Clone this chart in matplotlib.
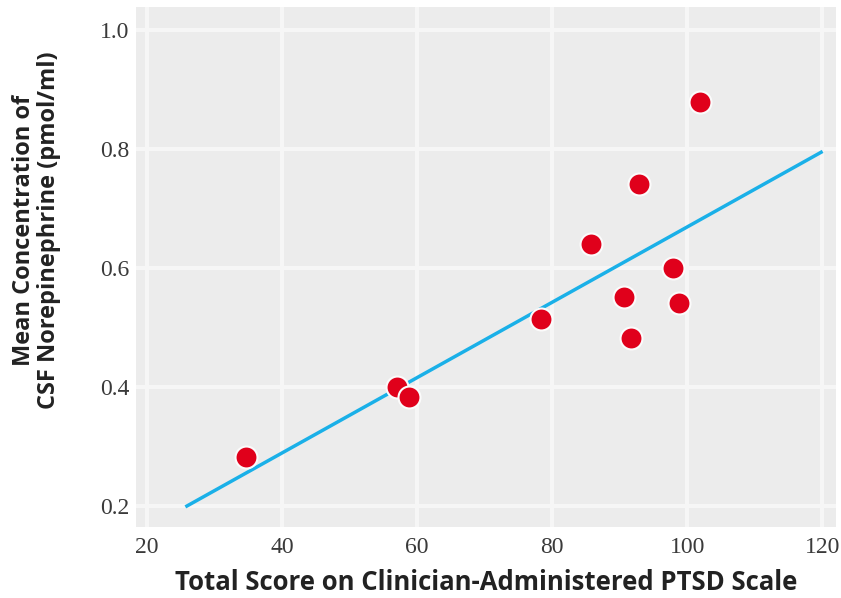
import numpy as np
from matplotlib import pyplot as plt

# Data
score = [34.6, 57.0, 58.8, 78.4, 85.7, 90.6, 91.7, 92.8, 97.8, 98.8, 101.8]
norepi = [0.282, 0.400, 0.383, 0.514, 0.641, 0.552, 0.482, 0.741, 0.600, 0.541, 0.880]

# Regression line end points
line_x = [25.9, 119.8]
line_y = [0.200, 0.795]

xticks = [20, 40, 60, 80, 100, 120]
yticks = [0.2, 0.4, 0.6, 0.8, 1.0]

fig = plt.figure(figsize=(8.41, 5.98), dpi=100)
ax = fig.add_axes([0.162, 0.119, 0.832, 0.869])
ax.set_facecolor("#ececec")
for s in ax.spines.values():
    s.set_visible(False)
ax.grid(color="#f6f6f6", linewidth=3)
ax.set_axisbelow(True)

ax.plot(line_x, line_y, color="#1ab0e8", linewidth=2.5, zorder=2)
ax.scatter(score, norepi, s=250, color="#e0001b", edgecolors="#fbfbfb",
           linewidths=1.5, zorder=3)

ax.set_xlim(18.4, 122)
ax.set_ylim(0.165, 1.039)
ax.set_xticks(xticks)
ax.set_yticks(yticks)
ax.set_yticklabels(["%.1f" % v for v in yticks])
ax.tick_params(length=0, labelsize=17, labelcolor="#3a3a3a")
ax.tick_params(axis="x", pad=7)
ax.tick_params(axis="y", pad=5)
for lab in ax.get_xticklabels() + ax.get_yticklabels():
    lab.set_family("Liberation Serif")

ax.set_xlabel("Total Score on Clinician-Administered PTSD Scale",
              fontsize=18.5, fontweight="bold", family="Open Sans",
              color="#222222", labelpad=8)
fig.text(0.043, 0.615, "Mean Concentration of\nCSF Norepinephrine (pmol/ml)",
         rotation=90, ha="center", va="center", fontsize=17,
         fontweight="bold", family="Open Sans", color="#222222",
         linespacing=1.05)

fig.savefig("out.png", dpi=100)
